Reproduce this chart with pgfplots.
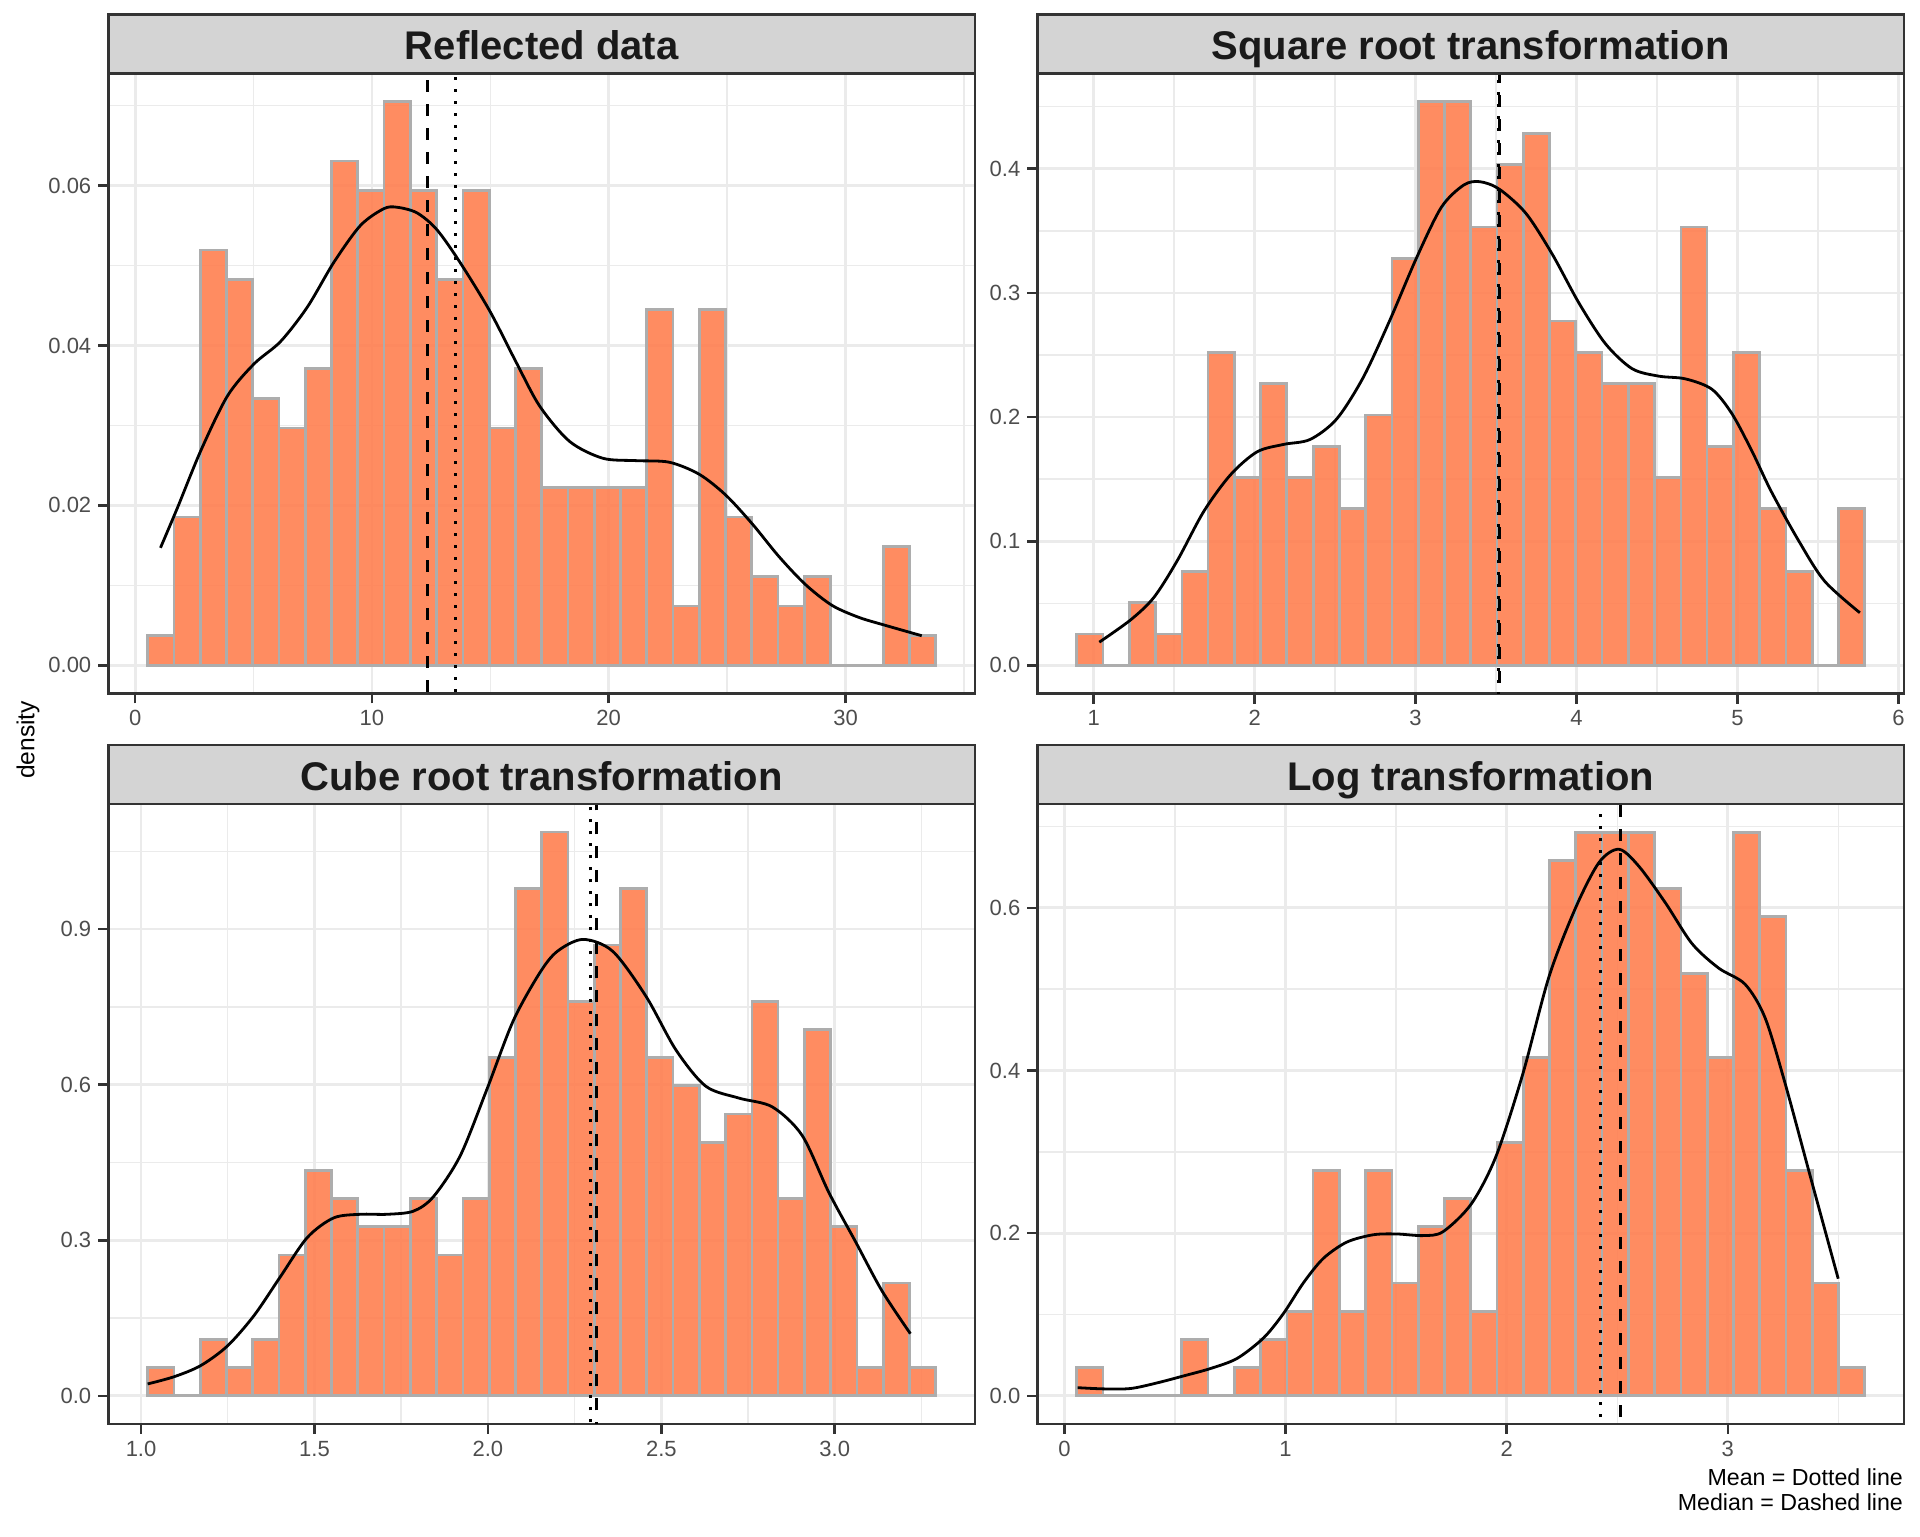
\documentclass[border=0pt]{standalone}
\usepackage{fontspec}
\setmainfont{Liberation Sans}
\usepackage{pgfplots}
\pgfplotsset{compat=1.18}

\definecolor{grey10}{HTML}{1A1A1A}
\definecolor{grey20}{HTML}{333333}
\definecolor{grey30}{HTML}{4D4D4D}
\definecolor{stripc}{HTML}{D4D4D4}
\definecolor{gridc}{HTML}{EBEBEB}
\definecolor{barfill}{RGB}{255,127,80}
\definecolor{barline}{HTML}{ADADAD}

\pgfplotsset{
  panel/.style={
    scale only axis, width=433.4pt, height=310pt,
    anchor=south west,
    axis line style={color=grey20, line width=1.3pt},
    tick align=outside, major tick length=5pt, minor tick length=0pt,
    tick style={color=grey20, line width=1.3pt},
    xtick pos=bottom, ytick pos=left,
    grid=both,
    major grid style={color=gridc, line width=1.4pt},
    minor grid style={color=gridc, line width=0.7pt},
    ticklabel style={font=\fontsize{11}{13}\selectfont, text=grey30},
    scaled ticks=false,
  },
  hist/.style={ybar interval, fill=barfill, fill opacity=0.9, draw=barline, line width=1.35pt},
  dens/.style={black, line width=1.4pt, smooth, no markers},
  meanline/.style={black, line width=1.5pt, dash pattern=on 1.5pt off 4.5pt},
  medline/.style={black, line width=1.5pt, dash pattern=on 6pt off 6pt},
}

\begin{document}
\begin{tikzpicture}
\path[use as bounding box] (0,0) rectangle (960pt,768pt);

% Reflected data
\begin{axis}[panel, at={(54.15pt,421.2pt)},
    xmin=-1.134, xmax=35.474, ymin=-0.003525, ymax=0.07403,
    xtick={0,10,20,30}, xticklabels={0,10,20,30},
    minor xtick={5,15,25,35},
    ytick={0,0.02,0.04,0.06}, yticklabels={0.00,0.02,0.04,0.06},
    minor ytick={0.01,0.03,0.05,0.07}]
  \addplot[hist] coordinates {
    (0.530,0.00371) (1.639,0.01855) (2.749,0.05194) (3.858,0.04823)
    (4.967,0.03339) (6.077,0.02968) (7.186,0.03710) (8.295,0.06307)
    (9.404,0.05936) (10.514,0.07049) (11.623,0.05936) (12.732,0.04823)
    (13.842,0.05936) (14.951,0.02968) (16.060,0.03710) (17.170,0.02226)
    (18.279,0.02226) (19.388,0.02226) (20.497,0.02226) (21.607,0.04452)
    (22.716,0.00742) (23.825,0.04452) (24.935,0.01855) (26.044,0.01113)
    (27.153,0.00742) (28.263,0.01113) (29.372,0) (30.481,0)
    (31.590,0.01484) (32.700,0.00371) (33.809,0)
  };
  \addplot[dens] coordinates {
    (1.07,0.0147) (1.80,0.0198) (2.78,0.0269) (3.90,0.0337) (5.02,0.0377)
    (6.14,0.0405) (7.27,0.0448) (8.39,0.0504) (9.51,0.0550) (10.49,0.0571)
    (11.05,0.0573) (11.90,0.0566) (12.74,0.0545) (13.72,0.0504) (14.98,0.0443)
    (16.11,0.0378) (17.09,0.0324) (18.35,0.0280) (19.75,0.0259) (21.16,0.0256)
    (22.56,0.0254) (23.82,0.0239) (24.94,0.0213) (26.06,0.0177) (27.19,0.0136)
    (28.31,0.0101) (29.43,0.0075) (30.56,0.0060) (31.68,0.0050) (33.22,0.0037)
  };
  \addplot[meanline] coordinates {(13.51,-1) (13.51,1)};
  \addplot[medline] coordinates {(12.36,-1) (12.36,1)};
\end{axis}

% Square root transformation
\begin{axis}[panel, at={(518.65pt,421.2pt)},
    xmin=0.650, xmax=6.035, ymin=-0.0227, ymax=0.4767,
    xtick={1,2,3,4,5,6}, xticklabels={1,2,3,4,5,6},
    minor xtick={1.5,2.5,3.5,4.5,5.5},
    ytick={0,0.1,0.2,0.3,0.4}, yticklabels={0.0,0.1,0.2,0.3,0.4},
    minor ytick={0.05,0.15,0.25,0.35,0.45}]
  \addplot[hist] coordinates {
    (0.895,0.02522) (1.058,0) (1.221,0.05044) (1.385,0.02522)
    (1.548,0.07566) (1.711,0.2522) (1.874,0.1513) (2.037,0.2270)
    (2.200,0.1513) (2.364,0.1765) (2.527,0.1261) (2.690,0.2018)
    (2.853,0.3279) (3.016,0.4540) (3.179,0.4540) (3.343,0.3531)
    (3.506,0.4035) (3.669,0.4287) (3.832,0.2774) (3.995,0.2522)
    (4.158,0.2270) (4.322,0.2270) (4.485,0.1513) (4.648,0.3531)
    (4.811,0.1765) (4.974,0.2522) (5.137,0.1261) (5.301,0.07566)
    (5.464,0) (5.627,0.1261) (5.790,0)
  };
  \addplot[dens] coordinates {
    (1.035,0.0187) (1.231,0.0368) (1.375,0.0549) (1.52,0.0845) (1.684,0.124)
    (1.85,0.1535) (2.015,0.172) (2.18,0.178) (2.345,0.182) (2.51,0.1985)
    (2.675,0.232) (2.84,0.278) (3.005,0.328) (3.16,0.369) (3.30,0.3870)
    (3.40,0.3896) (3.52,0.3836) (3.686,0.364) (3.85,0.331) (4.016,0.2916)
    (4.18,0.259) (4.345,0.239) (4.51,0.233) (4.676,0.2308) (4.84,0.2225)
    (4.964,0.203) (5.088,0.173) (5.21,0.140) (5.377,0.101) (5.54,0.068)
    (5.76,0.0424)
  };
  \addplot[meanline] coordinates {(3.512,-1) (3.512,1)};
  \addplot[medline] coordinates {(3.520,-1) (3.520,1)};
\end{axis}

% Cube root transformation
\begin{axis}[panel, at={(54.15pt,56pt)},
    xmin=0.9056, xmax=3.4046, ymin=-0.0543, ymax=1.1411,
    xtick={1,1.5,2,2.5,3}, xticklabels={1.0,1.5,2.0,2.5,3.0},
    minor xtick={1.25,1.75,2.25,2.75,3.25},
    ytick={0,0.3,0.6,0.9}, yticklabels={0.0,0.3,0.6,0.9},
    minor ytick={0.15,0.45,0.75,1.05}]
  \addplot[hist] coordinates {
    (1.0192,0.0543) (1.0949,0) (1.1707,0.1087) (1.2464,0.0543)
    (1.3221,0.1087) (1.3979,0.2717) (1.4736,0.4347) (1.5493,0.3804)
    (1.6250,0.3260) (1.7008,0.3260) (1.7765,0.3804) (1.8522,0.2717)
    (1.9280,0.3804) (2.0037,0.6521) (2.0794,0.9781) (2.1552,1.0868)
    (2.2309,0.7608) (2.3066,0.8694) (2.3823,0.9781) (2.4581,0.6521)
    (2.5338,0.5977) (2.6095,0.4891) (2.6853,0.5434) (2.7610,0.7608)
    (2.8367,0.3804) (2.9125,0.7064) (2.9882,0.3260) (3.0639,0.0543)
    (3.1396,0.2174) (3.2154,0.0543) (3.2911,0)
  };
  \addplot[dens] coordinates {
    (1.019,0.0229) (1.096,0.037) (1.172,0.0583) (1.249,0.0961) (1.326,0.155)
    (1.402,0.230) (1.479,0.305) (1.555,0.343) (1.632,0.350) (1.709,0.350)
    (1.785,0.356) (1.843,0.384) (1.920,0.4626) (1.996,0.589) (2.073,0.723)
    (2.149,0.815) (2.20,0.857) (2.274,0.880) (2.360,0.857) (2.456,0.770)
    (2.542,0.667) (2.628,0.597) (2.724,0.574) (2.82,0.557) (2.906,0.502)
    (2.983,0.392) (3.06,0.297) (3.136,0.2025) (3.218,0.1198)
  };
  \addplot[meanline] coordinates {(2.295,-1) (2.295,2)};
  \addplot[medline] coordinates {(2.312,-1) (2.312,2)};
\end{axis}

% Log transformation
\begin{axis}[panel, at={(518.65pt,56pt)},
    xmin=-0.1225, xmax=3.797, ymin=-0.03465, ymax=0.7277,
    xtick={0,1,2,3}, xticklabels={0,1,2,3},
    minor xtick={0.5,1.5,2.5,3.5},
    ytick={0,0.2,0.4,0.6}, yticklabels={0.0,0.2,0.4,0.6},
    minor ytick={0.1,0.3,0.5,0.7}]
  \addplot[hist] coordinates {
    (0.0557,0.03465) (0.1745,0) (0.2933,0) (0.4120,0)
    (0.5308,0.0693) (0.6496,0) (0.7684,0.03465) (0.8872,0.0693)
    (1.0059,0.1039) (1.1247,0.2772) (1.2435,0.1039) (1.3623,0.2772)
    (1.4811,0.1386) (1.5998,0.2079) (1.7186,0.2425) (1.8374,0.1039)
    (1.9562,0.3118) (2.0750,0.4158) (2.1937,0.6583) (2.3125,0.6929)
    (2.4313,0.6929) (2.5501,0.6929) (2.6689,0.6236) (2.7876,0.5197)
    (2.9064,0.4158) (3.0252,0.6929) (3.1440,0.5890) (3.2628,0.2772)
    (3.3815,0.1386) (3.5003,0.03465) (3.6191,0)
  };
  \addplot[dens] coordinates {
    (0.060,0.0100) (0.180,0.0085) (0.300,0.0090) (0.421,0.0160) (0.541,0.0246)
    (0.661,0.0336) (0.781,0.046) (0.901,0.0713) (0.991,0.1014) (1.081,0.139)
    (1.171,0.169) (1.277,0.189) (1.396,0.198) (1.502,0.199) (1.622,0.197)
    (1.712,0.2018) (1.84,0.236) (1.952,0.2947) (2.072,0.395) (2.192,0.516)
    (2.313,0.601) (2.418,0.656) (2.508,0.672) (2.598,0.651) (2.718,0.606)
    (2.838,0.556) (2.958,0.526) (3.078,0.506) (3.168,0.465) (3.258,0.385)
    (3.378,0.2646) (3.499,0.144)
  };
  \addplot[meanline] coordinates {(2.425,-1) (2.425,1)};
  \addplot[medline] coordinates {(2.515,-1) (2.515,1)};
\end{axis}

% facet strips
\foreach \x/\y/\t in {54.15/731.2/Reflected data, 518.65/731.2/Square root transformation,
                      54.15/366/Cube root transformation, 518.65/366/Log transformation}{
  \filldraw[fill=stripc, draw=grey20, line width=1.3pt]
    (\x pt,\y pt) rectangle ++(433.4pt,29.5pt);
  \node[anchor=base, text=grey10, font=\fontsize{20}{24}\selectfont\bfseries, inner sep=0pt]
    at ([xshift=216.7pt, yshift=6.9pt]\x pt,\y pt) {\t};
}

\node[rotate=90, font=\fontsize{12.3}{15}\selectfont] at (14pt,398pt) {density};
\node[anchor=base east, inner sep=0pt, font=\fontsize{11.6}{14}\selectfont] at (951.65pt,25.5pt) {Mean = Dotted line};
\node[anchor=base east, inner sep=0pt, font=\fontsize{11.6}{14}\selectfont] at (951.65pt,12.65pt) {Median = Dashed line};
\end{tikzpicture}
\end{document}
